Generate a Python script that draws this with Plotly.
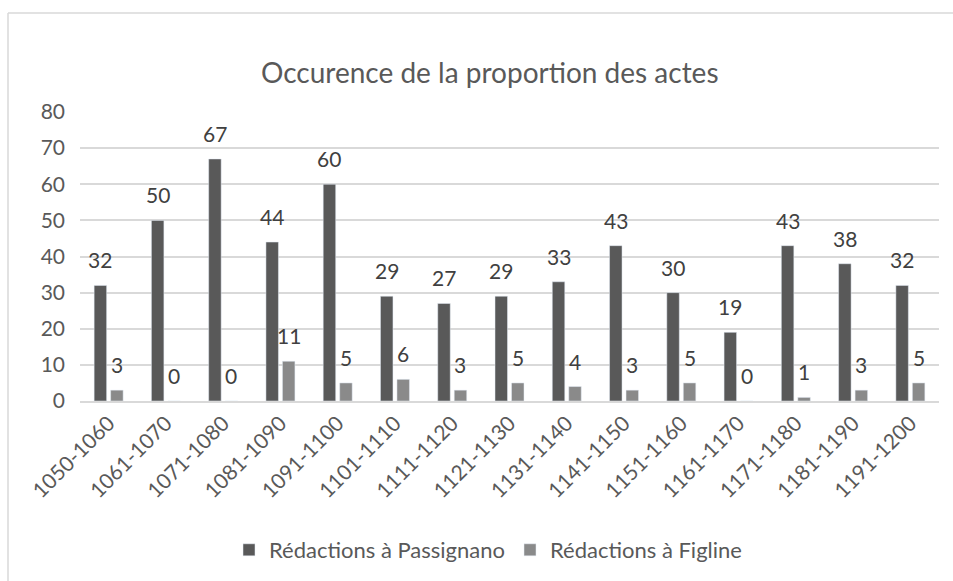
import plotly.graph_objects as go

categories = ["1050-1060", "1061-1070", "1071-1080", "1081-1090", "1091-1100",
              "1101-1110", "1111-1120", "1121-1130", "1131-1140", "1141-1150",
              "1151-1160", "1161-1170", "1171-1180", "1181-1190", "1191-1200"]
passignano = [32, 50, 67, 44, 60, 29, 27, 29, 33, 43, 30, 19, 43, 38, 32]
figline = [3, 0, 0, 11, 5, 6, 3, 5, 4, 3, 5, 0, 1, 3, 5]
y_ticks = [0, 10, 20, 30, 40, 50, 60, 70, 80]

FONT = "Lato, 'Open Sans', sans-serif"
W, H = 953, 581
L, R, T, B = 80, 14, 112, 180
pw, ph = W - L - R, H - T - B
BARGAP, GROUPGAP = 0.424, 0.242
slot = pw / len(categories) * (1 - BARGAP) / 2  # px width of one bar slot

def px_x(x):
    return (x - L) / pw

def px_y(y):
    return (H - B - y) / ph

fig = go.Figure()
fig.add_trace(go.Bar(x=categories, y=passignano, name="Rédactions à Passignano",
                     marker_color="#595959"))
fig.add_trace(go.Bar(x=categories, y=figline, name="Rédactions à Figline",
                     marker_color="#8a8a8a"))

annotations = []
for series, shift in ((passignano, -slot / 2), (figline, slot / 2)):
    for cat, val in zip(categories, series):
        annotations.append(dict(
            x=cat, y=val, xref="x", yref="y", text=str(val), showarrow=False,
            xanchor="center", yanchor="bottom", xshift=shift, yshift=11,
            font=dict(size=21, color="#404040", family=FONT)))

annotations.append(dict(text="Occurence de la proportion des actes", xref="paper", yref="paper",
                        x=px_x(490), y=px_y(72), xanchor="center", yanchor="middle",
                        showarrow=False, font=dict(size=28, color="#595959", family=FONT)))

fig.update_layout(
    width=W, height=H,
    margin=dict(l=L, r=R, t=T, b=B, autoexpand=False),
    paper_bgcolor="white", plot_bgcolor="white",
    barmode="group", bargap=BARGAP, bargroupgap=GROUPGAP,
    font=dict(family=FONT, color="#595959", size=21),
    showlegend=True,
    legend=dict(orientation="h", x=px_x(488), y=px_y(550), xanchor="center", yanchor="middle",
                font=dict(size=22, color="#595959", family=FONT),
                traceorder="normal"),
    xaxis=dict(type="category", tickangle=-45, showgrid=False, showline=True,
               linecolor="#d9d9d9", linewidth=1.5, ticks="",
               tickfont=dict(size=21, color="#595959", family=FONT)),
    yaxis=dict(range=[0, 80], tickvals=y_ticks, showgrid=True, gridcolor="#d9d9d9",
               gridwidth=1.5, zeroline=False, showline=False, ticks="",
               tickfont=dict(size=21, color="#595959", family=FONT), ticklabelstandoff=14),
    annotations=annotations,
    shapes=[
        dict(type="line", xref="paper", yref="paper", x0=px_x(8), x1=px_x(960),
             y0=px_y(13), y1=px_y(13), line=dict(color="#d9d9d9", width=1.5)),
        dict(type="line", xref="paper", yref="paper", x0=px_x(8), x1=px_x(8),
             y0=px_y(13), y1=px_y(590), line=dict(color="#d9d9d9", width=1.5)),
    ],
)

fig.write_html("out.html", config={"displayModeBar": False},
               post_script="document.body.style.margin='0';document.body.style.overflow='hidden';")
